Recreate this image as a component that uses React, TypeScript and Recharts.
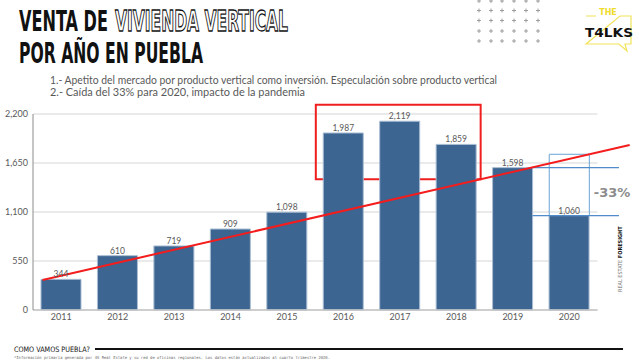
import {
  Bar,
  BarChart,
  CartesianGrid,
  LabelList,
  ReferenceArea,
  ReferenceLine,
  XAxis,
  YAxis,
} from "recharts";

const YEARS = ["2011", "2012", "2013", "2014", "2015", "2016", "2017", "2018", "2019", "2020"];
const SALES = [344, 610, 719, 909, 1098, 1987, 2119, 1859, 1598, 1060];
const Y_TICKS = [0, 550, 1100, 1650, 2200];

// línea de tendencia (x = índice del año, y = unidades)
const TREND_X = [-0.33, 10.07];
const TREND_Y = [337, 1852];

// recuadro rojo 2016-2018
const HIGHLIGHT_X = [4.51, 7.43];
const HIGHLIGHT_Y = [1467, 2304];

// caída 2019 -> 2020
const DROP_FROM = 1598;
const DROP_TO = 1060;
const DROP_BOX_X = [8.645, 9.355];
const DROP_BOX_TOP = 1748;
const DROP_LINE_X = [8.35, 9.88];

const W = 639;
const H = 364;
const BAR = "#3d6591";
const TXT = "#595959";
const HALF_BAND = (597.5 - 33) / YEARS.length / 2;

const data = YEARS.map((year, i) => ({ year, idx: i, sales: SALES[i] }));

const fmt = (v: unknown) => Number(v).toLocaleString("en-US");

function Plus({ x, y }: { x: number; y: number }) {
  return (
    <g stroke="#8a8a8a" strokeWidth={0.8}>
      <line x1={x - 2} y1={y} x2={x + 2} y2={y} />
      <line x1={x} y1={y - 2} x2={x} y2={y + 2} />
    </g>
  );
}

function Overlay() {
  const cols = [479, 491, 502, 514, 526, 538];
  const rows = [1, 10.5, 20.5, 31, 41];
  const title = { fontFamily: "'DejaVu Sans Condensed', 'DejaVu Sans', sans-serif", fontWeight: 700, fontSize: 16 };
  return (
    <svg
      width={W}
      height={H}
      style={{ position: "absolute", left: 0, top: 0, pointerEvents: "none" }}
    >
      <g transform="translate(19 31) scale(1 1.8)">
        <text x={0} y={0} textLength={89} lengthAdjust="spacingAndGlyphs" fill="#111" style={title}>
          VENTA DE
        </text>
        <text
          x={96}
          y={0}
          textLength={173}
          lengthAdjust="spacingAndGlyphs"
          fill="#fff"
          stroke="#111"
          strokeWidth={0.7}
          style={title}
        >
          VIVIENDA VERTICAL
        </text>
      </g>
      <g transform="translate(19 63) scale(1 1.8)">
        <text x={0} y={0} textLength={184} lengthAdjust="spacingAndGlyphs" fill="#111" style={title}>
          POR AÑO EN PUEBLA
        </text>
      </g>

      <g style={{ fontFamily: "Lato, sans-serif", fontSize: 11 }} fill={TXT}>
        <text x={50} y={84} textLength={447} lengthAdjust="spacingAndGlyphs">
          1.- Apetito del mercado por producto vertical como inversión. Especulación sobre producto vertical
        </text>
        <text x={50} y={96} textLength={255} lengthAdjust="spacingAndGlyphs">
          2.- Caída del 33% para 2020, impacto de la pandemia
        </text>
      </g>

      {rows.map((y) => cols.map((x) => <Plus key={`${x}-${y}`} x={x} y={y} />))}

      {/* logo */}
      <path
        d="M586 16 L596 16 M620 16 L631 16 L631 44 L625 44 L627 51 L619 44 L586 44 Z"
        fill="none"
        stroke="#f2e35a"
        strokeWidth={1.2}
      />
      <text x={608} y={15} textAnchor="middle" fill="#f0dc2c" style={{ fontFamily: "'DejaVu Sans', sans-serif", fontWeight: 700, fontSize: 8 }}>
        THE
      </text>
      <text
        x={585}
        y={37}
        textLength={48}
        lengthAdjust="spacingAndGlyphs"
        fill="#111"
        style={{ fontFamily: "'DejaVu Sans Condensed', 'DejaVu Sans', sans-serif", fontWeight: 700, fontSize: 13 }}
      >
        T4LKS
      </text>

      <text
        x={612}
        y={193}
        textAnchor="middle"
        dominantBaseline="middle"
        fill="#8c8c8c"
        style={{ fontFamily: "'DejaVu Sans', sans-serif", fontWeight: 700, fontSize: 13 }}
      >
        -33%
      </text>

      <text
        transform="translate(622 292) rotate(-90)"
        style={{ fontFamily: "'DejaVu Sans Condensed', 'DejaVu Sans', sans-serif", fontSize: 5.5 }}
      >
        <tspan fill="#777">REAL ESTATE </tspan>
        <tspan fill="#111" fontWeight={700}>FORESIGHT</tspan>
      </text>

      <text
        x={14}
        y={351.5}
        textLength={76}
        lengthAdjust="spacingAndGlyphs"
        fill="#111"
        style={{ fontFamily: "'DejaVu Sans Condensed', 'DejaVu Sans', sans-serif", fontSize: 7.5 }}
      >
        COMO VAMOS PUEBLA?
      </text>
      <line x1={95} y1={349} x2={623} y2={349} stroke="#111111" strokeWidth={2.2} />
      <text
        x={14}
        y={358.5}
        textLength={316}
        lengthAdjust="spacingAndGlyphs"
        fill="#666"
        style={{ fontFamily: "'DejaVu Sans Mono', monospace", fontSize: 4 }}
      >
        *Información primaria generada por 4S Real Estate y su red de oficinas regionales. Los datos están actualizados al cuarto trimestre 2020.
      </text>
    </svg>
  );
}

export default function App() {
  const tick = { fontSize: 9, fill: TXT, fontFamily: "Lato, sans-serif" };
  return (
    <>
      <div style={{ position: "absolute", left: 0, top: 0, width: W, height: H, background: "#fff" }}>
        <BarChart
          width={W}
          height={H}
          data={data}
          margin={{ top: 114, right: 41.5, bottom: 0, left: 0 }}
          barSize={40}
        >
          <CartesianGrid vertical={false} stroke="#e3e3e3" strokeWidth={1.5} />
          <XAxis
            dataKey="year"
            height={54}
            tick={tick}
            tickLine={false}
            tickSize={0}
            tickMargin={4}
            axisLine={{ stroke: "#c4c4c4", strokeWidth: 1.5 }}
          />
          <XAxis
            xAxisId="idx"
            dataKey="idx"
            type="number"
            domain={[0, YEARS.length - 1]}
            padding={{ left: HALF_BAND, right: HALF_BAND }}
            allowDataOverflow
            hide
          />
          <YAxis
            width={33}
            domain={[0, 2200]}
            ticks={Y_TICKS}
            tickFormatter={fmt}
            tick={tick}
            tickLine={false}
            tickSize={0}
            tickMargin={5}
            axisLine={{ stroke: "#8c8c8c", strokeWidth: 1 }}
          />
          <Bar dataKey="sales" fill={BAR} stroke="#a9bdd3" strokeWidth={1} isAnimationActive={false}>
            <LabelList dataKey="sales" position="top" offset={2} formatter={fmt} style={{ ...tick, fontSize: 8.5 }} />
          </Bar>
          <ReferenceArea
            xAxisId="idx"
            x1={DROP_BOX_X[0]}
            x2={DROP_BOX_X[1]}
            y1={DROP_TO}
            y2={DROP_BOX_TOP}
            fill="none"
            fillOpacity={0}
            stroke="#6aa3d6"
            strokeWidth={1}
            ifOverflow="visible"
          />
          <ReferenceLine
            xAxisId="idx"
            segment={[
              { x: DROP_LINE_X[0], y: DROP_FROM },
              { x: DROP_LINE_X[1], y: DROP_FROM },
            ]}
            stroke="#4f8cc9"
            strokeWidth={1.3}
            ifOverflow="visible"
          />
          <ReferenceLine
            xAxisId="idx"
            segment={[
              { x: DROP_LINE_X[0], y: DROP_TO },
              { x: DROP_LINE_X[1], y: DROP_TO },
            ]}
            stroke="#4f8cc9"
            strokeWidth={1.3}
            ifOverflow="visible"
          />
          <ReferenceArea
            xAxisId="idx"
            x1={HIGHLIGHT_X[0]}
            x2={HIGHLIGHT_X[1]}
            y1={HIGHLIGHT_Y[0]}
            y2={HIGHLIGHT_Y[1]}
            fill="none"
            fillOpacity={0}
            stroke="#f01f1f"
            strokeWidth={2}
            ifOverflow="visible"
          />
          <ReferenceLine
            xAxisId="idx"
            segment={[
              { x: TREND_X[0], y: TREND_Y[0] },
              { x: TREND_X[1], y: TREND_Y[1] },
            ]}
            stroke="#f41c1c"
            strokeWidth={2}
            ifOverflow="visible"
          />
        </BarChart>
        <Overlay />
      </div>
      <div
        style={{
          position: "fixed",
          left: 95,
          top: 348,
          width: 528,
          height: 2,
          background: "#111",
          zIndex: 10,
        }}
      />
    </>
  );
}
